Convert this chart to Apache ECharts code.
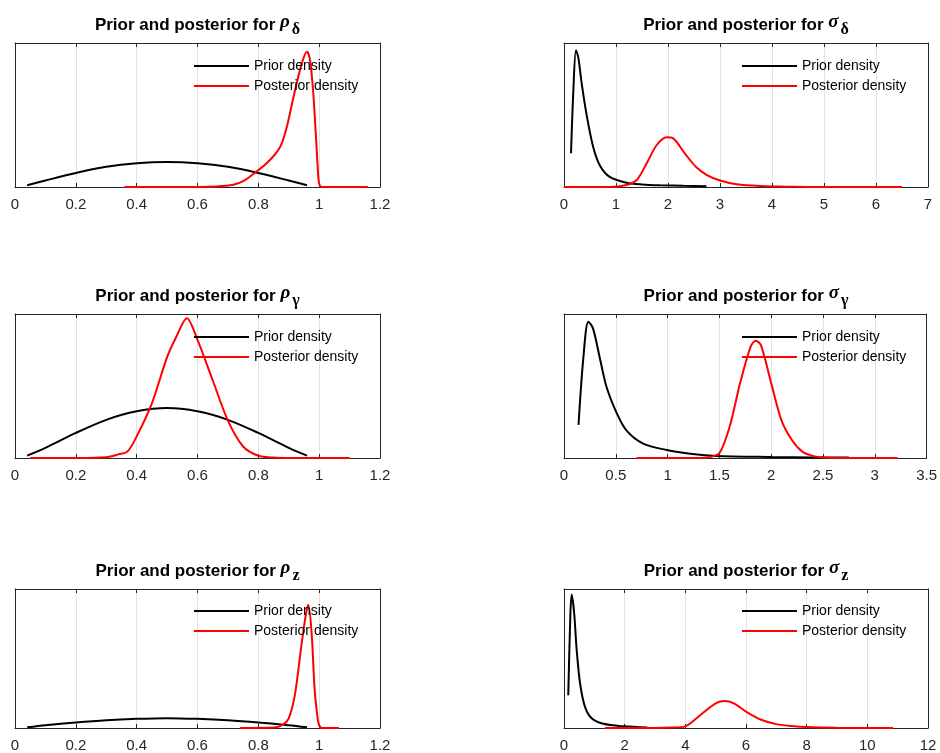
<!DOCTYPE html>
<html>
<head>
<meta charset="utf-8">
<script src="https://cdn.jsdelivr.net/npm/echarts@6/dist/echarts.min.js"></script>
<style>
  html, body { margin: 0; padding: 0; background: #fff; }
  #chart { width: 940px; height: 753px; }
</style>
</head>
<body>
<div id="chart"></div>
<script>
// densities are read off the picture, in % of each panel's height
// rho_delta
const rhoDeltaPriorX = [0.04, 0.1, 0.2, 0.3, 0.4, 0.5, 0.6, 0.7, 0.8, 0.9, 0.96];
const rhoDeltaPriorY = [1.2, 4.5, 9.7, 14, 16.5, 17.4, 16.5, 14, 9.7, 4.5, 1.2];
const rhoDeltaPostX = [0.36, 0.5, 0.6, 0.66, 0.718, 0.75, 0.78, 0.83, 0.872, 0.894, 0.915, 0.943, 0.96, 0.97, 0.98, 0.99, 0.998, 1.003, 1.014, 1.05, 1.16];
const rhoDeltaPostY = [0, 0, 0.05, 0.3, 1.5, 4, 8.5, 17, 28, 42, 62, 86, 94, 88, 67, 33, 4.9, 0.7, 0, 0, 0];
// sigma_delta
const sigDeltaPriorX = [0.135, 0.18, 0.23, 0.275, 0.34, 0.44, 0.56, 0.69, 0.88, 1.2, 1.5, 1.85, 2.3, 2.74];
const sigDeltaPriorY = [23.4, 67, 95, 90, 72, 49, 28, 15, 7, 3, 1.8, 1.2, 0.8, 0.5];
const sigDeltaPostX = [0, 0.88, 1.2, 1.4, 1.59, 1.78, 1.975, 2.1, 2.33, 2.55, 2.74, 3.0, 3.32, 3.77, 4.4, 5.0, 6.5];
const sigDeltaPostY = [0, 0, 1.4, 4.9, 16.5, 29, 34.5, 33.8, 23, 13.5, 8.5, 4.5, 1.9, 0.7, 0.2, 0, 0];
// rho_gamma
const rhoGammaPriorX = [0.04, 0.1, 0.2, 0.3, 0.4, 0.5, 0.6, 0.7, 0.8, 0.9, 0.96];
const rhoGammaPriorY = [1.6, 7, 17.4, 26.5, 32.4, 34.7, 32.4, 26.5, 17.4, 7, 1.6];
const rhoGammaPostX = [0.05, 0.2, 0.3, 0.34, 0.37, 0.4, 0.45, 0.5, 0.53, 0.565, 0.6, 0.65, 0.7, 0.75, 0.8, 0.85, 0.9, 1.1];
const rhoGammaPostY = [0, 0, 0.5, 2.5, 4.6, 15, 38, 70, 84, 97, 82, 54, 26, 8, 1.6, 0.3, 0, 0];
// sigma_gamma
const sigGammaPriorX = [0.14, 0.185, 0.235, 0.28, 0.35, 0.41, 0.51, 0.6, 0.76, 0.99, 1.24, 1.47, 2.0, 2.4, 2.75];
const sigGammaPriorY = [23, 68, 94.7, 90, 68, 49.5, 31, 19.4, 10.2, 5.6, 2.8, 1.4, 0.7, 0.4, 0.3];
const sigGammaPostX = [0.7, 1.3, 1.4, 1.5, 1.6, 1.7, 1.8, 1.85, 1.9, 2.0, 2.1, 2.2, 2.3, 2.4, 2.5, 2.7, 3.22];
const sigGammaPostY = [0, 0, 0.5, 3.4, 22, 52, 77, 81.5, 78.5, 52, 26, 12.5, 4.4, 1.5, 0.4, 0, 0];
// rho_z
const rhoZPriorX = [0.04, 0.1, 0.2, 0.3, 0.4, 0.5, 0.6, 0.7, 0.8, 0.9, 0.96];
const rhoZPriorY = [0.5, 2, 4, 5.6, 6.6, 7.1, 6.6, 5.6, 4, 2, 0.5];
const rhoZPostX = [0.74, 0.85, 0.88, 0.9, 0.92, 0.94, 0.955, 0.964, 0.975, 0.985, 0.995, 1.0, 1.01, 1.065];
const rhoZPostY = [0, 0.3, 2.3, 7, 23.6, 56.7, 80, 88.6, 69, 28, 7, 2, 0, 0];
// sigma_z
const sigZPriorX = [0.14, 0.2, 0.25, 0.33, 0.42, 0.53, 0.69, 0.91, 1.3, 1.96, 2.75];
const sigZPriorY = [23.6, 74, 96, 84, 55.5, 32, 15.4, 7, 3, 1.2, 0.3];
const sigZPostX = [1.35, 3.0, 3.5, 4.0, 4.5, 5.0, 5.3, 5.6, 6.0, 6.5, 7.0, 7.5, 8.0, 9.0, 10.85];
const sigZPostY = [0, 0, 0.3, 1.2, 9.4, 17.7, 19.4, 17.7, 11.8, 5.9, 2.8, 1.5, 0.7, 0.2, 0];

// axis ranges and labels
const xMax = [1.2, 7, 1.2, 3.5, 1.2, 12];
const xStep = [0.2, 1, 0.2, 0.5, 0.2, 2];
const paramSym = ['ρ', 'σ', 'ρ', 'σ', 'ρ', 'σ'];
const paramSub = ['δ', 'δ', 'γ', 'γ', 'z', 'z'];
const legendNames = ['Prior density', 'Posterior density'];

const priors = [
    [rhoDeltaPriorX, rhoDeltaPriorY], [sigDeltaPriorX, sigDeltaPriorY],
    [rhoGammaPriorX, rhoGammaPriorY], [sigGammaPriorX, sigGammaPriorY],
    [rhoZPriorX, rhoZPriorY], [sigZPriorX, sigZPriorY]
];
const posts = [
    [rhoDeltaPostX, rhoDeltaPostY], [sigDeltaPostX, sigDeltaPostY],
    [rhoGammaPostX, rhoGammaPostY], [sigGammaPostX, sigGammaPostY],
    [rhoZPostX, rhoZPostY], [sigZPostX, sigZPostY]
];

// panel layout
const colLeft = [15, 564];
const colWidth = [365, 364];
const rowTop = [43, 314, 589];
const rowHeight = [144, 144, 141];

const boxLine = {show: true, onZero: false, lineStyle: {color: '#262626', width: 1}};

function zip(xs, ys) {
    return xs.map((x, i) => [x, ys[i]]);
}

let grid = [], xAxis = [], yAxis = [], series = [], legend = [], graphic = [];
for (let i = 0; i < 6; i++) {
    let c = i % 2, r = Math.floor(i / 2);
    grid.push({
        left: colLeft[c], top: rowTop[r], width: colWidth[c], height: rowHeight[r],
        show: false
    });
    // bottom axis with labels
    xAxis.push({
        type: 'value', gridIndex: i, min: 0, max: xMax[i], interval: xStep[i], position: 'bottom',
        axisLine: boxLine,
        axisTick: {show: true, inside: true, length: 4, lineStyle: {color: '#262626'}},
        axisLabel: {color: '#262626', fontSize: 15, fontFamily: 'Liberation Sans', margin: 10},
        splitLine: {show: true, showMinLine: false, showMaxLine: false, lineStyle: {color: '#e3e3e3', width: 1}}
    });
    // top axis, ticks only
    xAxis.push({
        type: 'value', gridIndex: i, min: 0, max: xMax[i], interval: xStep[i], position: 'top',
        axisLine: boxLine,
        axisTick: {show: true, inside: true, length: 4, lineStyle: {color: '#262626'}},
        axisLabel: {show: false}, splitLine: {show: false}
    });
    yAxis.push({
        type: 'value', gridIndex: i, min: 0, max: 100, position: 'left',
        axisLine: boxLine, axisTick: {show: false},
        axisLabel: {show: false}, splitLine: {show: false}
    });
    yAxis.push({
        type: 'value', gridIndex: i, min: 0, max: 100, position: 'right',
        axisLine: boxLine, axisTick: {show: false},
        axisLabel: {show: false}, splitLine: {show: false}
    });
    series.push({
        name: 'Prior density', type: 'line', xAxisIndex: 2 * i, yAxisIndex: 2 * i,
        data: zip(priors[i][0], priors[i][1]),
        smooth: 0.3, showSymbol: false, symbol: 'none',
        lineStyle: {color: '#000', width: 2}, itemStyle: {color: '#000'}
    });
    series.push({
        name: 'Posterior density', type: 'line', xAxisIndex: 2 * i, yAxisIndex: 2 * i,
        data: zip(posts[i][0], posts[i][1]),
        smooth: 0.3, showSymbol: false, symbol: 'none',
        lineStyle: {color: '#ff0000', width: 2}, itemStyle: {color: '#ff0000'}
    });
    legend.push({
        data: legendNames, orient: 'vertical',
        left: colLeft[c] + (c === 0 ? 179 : 178),
        top: rowTop[r] + (r === 2 ? 15 : 16),
        padding: 0, itemGap: 6, itemWidth: 55, itemHeight: 2, icon: 'rect',
        selectedMode: false,
        textStyle: {color: '#000', fontSize: 14, fontFamily: 'Liberation Sans'}
    });
    graphic.push({
        type: 'text',
        x: colLeft[c] + colWidth[c] / 2,
        y: rowTop[r] - 30,
        style: {
            text: 'Prior and posterior for {g|' + paramSym[i] + '}{s|' + paramSub[i] + '}',
            align: 'center',
            font: 'bold 17px "Liberation Sans"',
            fill: '#000',
            rich: {
                g: {font: 'italic bold 19px "Liberation Serif"', fill: '#000', verticalAlign: 'top', lineHeight: 20},
                s: {font: 'bold 16px "Liberation Serif"', fill: '#000', verticalAlign: 'top', padding: [9, 0, 0, 2]}
            }
        }
    });
}

let myChart = echarts.init(document.getElementById('chart'));
myChart.setOption({
    animation: false,
    grid: grid,
    xAxis: xAxis,
    yAxis: yAxis,
    legend: legend,
    graphic: graphic,
    series: series
});
</script>
</body>
</html>
